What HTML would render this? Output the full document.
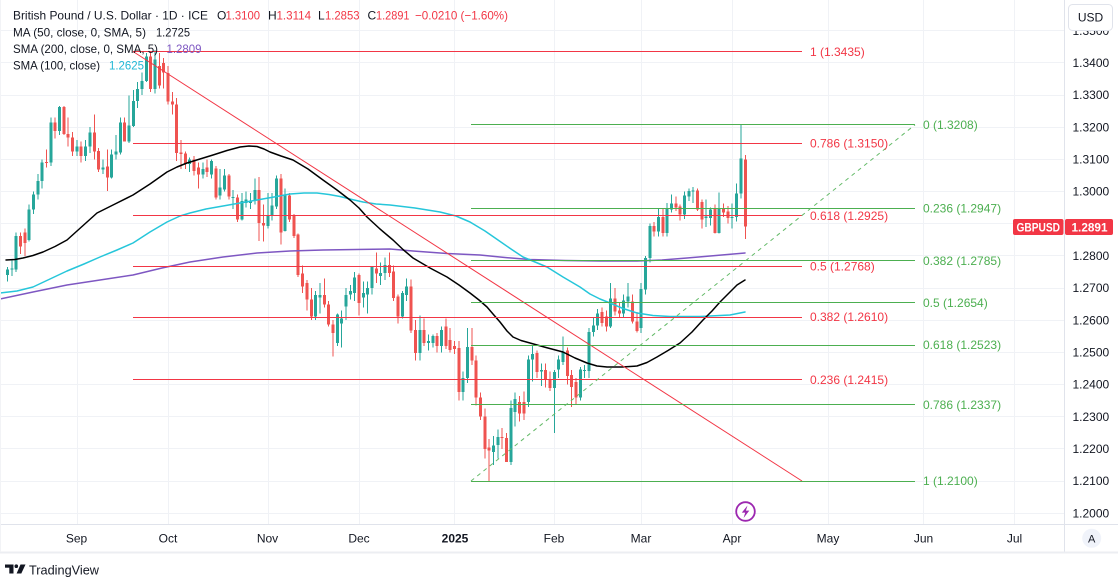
<!DOCTYPE html>
<html><head><meta charset="utf-8"><style>
html,body{margin:0;padding:0;background:#fff;}
body{width:1118px;height:581px;overflow:hidden;}
svg{display:block;}
text{font-family:"Liberation Sans",Arial,sans-serif;}
</style></head><body>
<svg width="1118" height="581" viewBox="0 0 1118 581" xmlns="http://www.w3.org/2000/svg">
<defs><clipPath id="clip"><rect x="0" y="0" width="1064" height="524"/></clipPath></defs>
<rect width="1118" height="581" fill="#fff"/>
<g stroke="#f0f2f6" stroke-width="1">
  <line x1="0" y1="513.5" x2="1064" y2="513.5"/><line x1="0" y1="481.5" x2="1064" y2="481.5"/>
  <line x1="0" y1="448.5" x2="1064" y2="448.5"/><line x1="0" y1="416.5" x2="1064" y2="416.5"/>
  <line x1="0" y1="384.5" x2="1064" y2="384.5"/><line x1="0" y1="352.5" x2="1064" y2="352.5"/>
  <line x1="0" y1="320.5" x2="1064" y2="320.5"/><line x1="0" y1="288.5" x2="1064" y2="288.5"/>
  <line x1="0" y1="255.5" x2="1064" y2="255.5"/><line x1="0" y1="223.5" x2="1064" y2="223.5"/>
  <line x1="0" y1="191.5" x2="1064" y2="191.5"/><line x1="0" y1="159.5" x2="1064" y2="159.5"/>
  <line x1="0" y1="127.5" x2="1064" y2="127.5"/><line x1="0" y1="95.5" x2="1064" y2="95.5"/>
  <line x1="0" y1="62.5" x2="1064" y2="62.5"/><line x1="0" y1="30.5" x2="1064" y2="30.5"/>
  <line x1="77.5" y1="0" x2="77.5" y2="524"/><line x1="168.5" y1="0" x2="168.5" y2="524"/>
  <line x1="268.5" y1="0" x2="268.5" y2="524"/><line x1="359.5" y1="0" x2="359.5" y2="524"/>
  <line x1="454.5" y1="0" x2="454.5" y2="524"/><line x1="554.5" y1="0" x2="554.5" y2="524"/>
  <line x1="641.5" y1="0" x2="641.5" y2="524"/><line x1="732.5" y1="0" x2="732.5" y2="524"/>
  <line x1="828.5" y1="0" x2="828.5" y2="524"/><line x1="923.5" y1="0" x2="923.5" y2="524"/>
  <line x1="1014.5" y1="0" x2="1014.5" y2="524"/>
</g>
<g clip-path="url(#clip)">
  <!-- candles: x = index, y = pips above 1.2000 -->
  <g transform="matrix(4.34 0 0 -0.3217 76.9 513.2)" fill="none" shape-rendering="crispEdges">
    <path stroke="#26a69a" stroke-width="1" vector-effect="non-scaling-stroke" d="M-16 720V765M-15 738V785M-14 750V872M-11 845V960M-10 930V1000M-9 975V1055M-8 1010V1100M-6 1080V1230M-4 1175V1266M0 1110V1160M2 1095V1160M3 1120V1200M6 1055V1100M8 1040V1130M9 1100V1175M10 1115V1230M12 1150V1298M13 1200V1315M14 1260V1340M15 1300V1370M16 1340V1430M18 1305V1440M26 1060V1105M29 1040V1090M31 1040V1100M33 975V1070M34 1000V1070M36 945V1005M38 910V995M39 950V1000M40 945V995M41 960V1040M44 885V995M45 910V995M46 945V1050M48 875V1010M55 600V690M56 620V715M60 520V620M61 515V630M62 600V700M63 665V710M64 660V750M66 640V720M67 620V720M68 680V765M70 710V780M71 725V795M75 605V690M76 660V730M79 475V615M81 505V555M82 515V555M84 500V580M89 350V440M90 405V576M96 150V240M97 170V260M100 150V350M101 270V375M104 330V490M105 410V520M107 395V465M110 249V445M111 420V490M112 460V550M116 350V455M117 420V460M118 420V575M119 550V610M120 570V635M123 575V716M126 610V680M127 640V715M130 560V715M131 680V800M132 780V900M134 860V945M136 860V965M137 935V990M140 915V1000M141 970V1010M142 965V1014M145 890V975M146 895V950M148 870V997M151 885V963M152 907V1025M153 978V1208"/>
    <path stroke="#26a69a" stroke-width="3" vector-effect="non-scaling-stroke" d="M-16 741V757M-15 757V760M-14 757V861M-11 850V944M-10 944V990M-9 990V1032M-8 1032V1090M-6 1090V1215M-4 1188V1262M0 1125V1140M2 1110V1140M3 1140V1183M6 1068V1075M8 1043V1115M9 1115V1125M10 1121V1215M12 1156V1205M13 1203V1281M14 1281V1318M15 1318V1344M16 1344V1420M18 1318V1410M26 1085V1100M29 1053V1070M31 1053V1095M33 988V1012M34 1006V1050M36 980V983M38 913V970M39 965V975M40 965V972M41 970V1005M44 892V924M45 924V956M46 953V1040M48 877V988M55 612V679M56 670V678M60 529V617M61 590V605M62 643V679M63 680V690M64 685V732M66 670V685M67 680V700M68 700V769M70 738V747M71 747V772M75 612V685M76 679V705M79 498V570M81 529V535M82 529V551M84 520V570M89 377V420M90 420V517M96 190V210M97 212V237M100 159V327M101 314V355M104 346V477M105 477V495M107 440V445M110 389V439M111 446V477M112 470V502M116 360V446M117 442V445M118 442V564M119 564V583M120 583V620M123 580V667M126 620V661M127 658V674M130 575V697M131 695V794M132 794V892M134 876V921M136 871V946M137 944V963M140 928V988M141 984V1001M142 1000V1003M145 918V922M146 918V944M148 871V949M151 918V921M152 921V994M153 994V1102"/>
    <path stroke="#ef5350" stroke-width="1" vector-effect="non-scaling-stroke" d="M-13 805V872M-12 800V885M-7 1075V1130M-5 1165V1230M-3 1175V1266M-2 1140V1230M-1 1110V1185M1 1090V1155M4 1100V1240M5 1060V1135M7 1002V1130M11 1155V1230M17 1310V1434M19 1320V1430M20 1320V1415M21 1270V1390M22 1240V1310M23 1095V1290M24 1070V1160M25 1070V1125M27 1050V1110M28 1010V1090M30 1045V1100M32 975V1080M35 975V1055M37 905V990M42 846V1045M43 845V960M47 835V1055M49 905V995M50 855V930M51 735V870M52 685V770M53 630V725M54 600V700M57 640V730M58 580V660M59 487V600M65 615V745M69 715V810M72 735V810M73 660V770M74 590V680M77 560V726M78 475V600M80 520V605M83 500V560M85 510V605M86 500V575M87 495V535M88 350V535M91 460V576M92 335V490M93 290V375M94 170V325M95 100V230M98 200V265M99 160V250M102 285V365M103 290V378M106 420V505M108 390V465M109 380V440M113 400V515M114 330V445M115 340V420M121 580V640M122 565V630M124 615V700M125 610V655M128 590V680M129 562V625M133 860V905M135 860V945M138 940V985M139 910V960M143 940V1010M144 885V975M147 870V960M149 920V962M150 900V955M154 853V1114"/>
    <path stroke="#ef5350" stroke-width="3" vector-effect="non-scaling-stroke" d="M-13 861V829M-12 872V840M-7 1092V1088M-5 1215V1188M-3 1262V1178M-2 1178V1168M-1 1168V1125M1 1140V1110M4 1183V1125M5 1126V1068M7 1078V1043M11 1215V1156M17 1420V1318M19 1390V1330M20 1400V1370M21 1368V1280M22 1280V1270M23 1270V1120M24 1122V1117M25 1118V1085M27 1100V1063M28 1075V1053M30 1075V1060M32 1071V981M35 1050V984M37 981V913M42 1005V902M43 902V895M47 1040V872M49 988V913M50 924V861M51 866V741M52 745V705M53 716V664M54 664V612M57 679V648M58 648V586M59 586V560M65 741V654M69 760V745M72 772V747M73 752V669M74 674V612M77 705V568M78 570V498M80 570V529M83 551V520M85 580V519M86 539V508M87 520V510M88 514V377M91 517V474M92 474V360M93 360V300M94 300V199M95 205V195M98 237V233M99 233V159M102 346V310M103 346V310M106 498V439M108 445V414M109 414V389M113 505V427M114 430V393M115 408V360M121 625V591M122 612V580M124 667V627M125 630V620M128 658V596M129 596V567M133 892V876M135 921V871M138 963V950M139 954V928M143 1003V944M144 967V913M147 946V871M149 949V935M150 938V918M154 1100V891"/>
  </g>
  <!-- moving averages -->
  <g fill="none" stroke-width="1.5" stroke-linejoin="round" stroke-linecap="round">
    <polyline stroke="#7e57c2" points="0,299 33,292 67,285 100,280 133,275 162,268 190,262 223,257 257,253 290,251 323,250 356,249.5 390,249 413,251 447,253.5 480,255 505,257.5 530,259.5 565,260.5 600,261 637,261 662,260 687,258 716,255.5 745,253"/>
    <polyline stroke="#26c6da" points="0,293 17,291 33,287 50,279 67,271 84,264 100,257 117,250 133,243 150,232 167,222 180,216 190,213 206,209 223,206 240,203 257,200 274,197 290,194 304,193 317,193 329,194.5 340,196.5 352,199.5 363,202 376,204 390,205 415,208 440,212 456,216 470,222 485,231 498,240 511,249 523,257 535,262 547,267 563,277 580,287 590,294 600,299 610,303 623,308.5 637,313 653,315.5 670,316.5 700,316.5 730,315 745,312"/>
    <polyline stroke="#000000" points="6,260 15,259.5 23,258 33,255.5 43,252 55,246.5 67,240 82,226.5 97,213 115,204 133,195 150,184 167,172 177,167 187,163 200,159 213,155 227,150.5 240,147 249,146 257,146.5 264,149 270,152 281,156 293,160 308,169 323,180 337,190 350,200 359,208 367,217 380,229 393,240 403,249.5 413,258 430,268 447,277 459,285 470,293 479,300 487,307 493,314 500,322 507,331 513,337 521,340.5 530,343 546,347.5 563,352 575,358 587,363 597,366 607,367 622,367 637,366 647,362.5 657,357 668,350.5 680,343 692,332 703,320 712,311 720,302 729,293 737,285 745,280"/>
  </g>
  <!-- red fib -->
  <g stroke="#f23645" stroke-width="1">
    <line x1="133" y1="51.5" x2="802" y2="51.5"/>
    <line x1="133" y1="143.5" x2="802" y2="143.5"/>
    <line x1="133" y1="215.5" x2="802" y2="215.5"/>
    <line x1="133" y1="266.5" x2="802" y2="266.5"/>
    <line x1="133" y1="317.5" x2="802" y2="317.5"/>
    <line x1="133" y1="379.5" x2="802" y2="379.5"/>
    <line x1="133" y1="51.5" x2="802" y2="481"/>
  </g>
  <!-- green fib -->
  <g stroke="#4caf50" stroke-width="1">
    <line x1="471" y1="124.5" x2="915" y2="124.5"/>
    <line x1="471" y1="208.5" x2="915" y2="208.5"/>
    <line x1="471" y1="260.5" x2="915" y2="260.5"/>
    <line x1="471" y1="302.5" x2="915" y2="302.5"/>
    <line x1="471" y1="345.5" x2="915" y2="345.5"/>
    <line x1="471" y1="404.5" x2="915" y2="404.5"/>
    <line x1="471" y1="481.5" x2="915" y2="481.5"/>
    <line x1="471" y1="481" x2="915" y2="124.8" stroke-dasharray="4 4" stroke="#66bb6a"/>
  </g>
</g>

<!-- fib labels -->
<g font-size="12" fill="#f23645">
  <text x="810" y="55.8">1 (1.3435)</text>
  <text x="810" y="147.4">0.786 (1.3150)</text>
  <text x="810" y="219.8">0.618 (1.2925)</text>
  <text x="810" y="270.3">0.5 (1.2768)</text>
  <text x="810" y="321.2">0.382 (1.2610)</text>
  <text x="810" y="383.9">0.236 (1.2415)</text>
</g>
<g font-size="12" fill="#4caf50">
  <text x="923" y="129.0">0 (1.3208)</text>
  <text x="923" y="212.7">0.236 (1.2947)</text>
  <text x="923" y="264.9">0.382 (1.2785)</text>
  <text x="923" y="307.0">0.5 (1.2654)</text>
  <text x="923" y="349.2">0.618 (1.2523)</text>
  <text x="923" y="409.0">0.786 (1.2337)</text>
  <text x="923" y="485.2">1 (1.2100)</text>
</g>

<!-- legend -->
<g font-size="12" fill="#131722">
  <text x="13" y="19.5" textLength="195" lengthAdjust="spacingAndGlyphs">British Pound / U.S. Dollar · 1D · ICE</text>
  <text x="217" y="19.5">O</text><text x="225.5" y="19.5" fill="#f23645" textLength="34.5" lengthAdjust="spacingAndGlyphs">1.3100</text>
  <text x="268" y="19.5">H</text><text x="276.5" y="19.5" fill="#f23645" textLength="34.5" lengthAdjust="spacingAndGlyphs">1.3114</text>
  <text x="318" y="19.5">L</text><text x="325" y="19.5" fill="#f23645" textLength="34.5" lengthAdjust="spacingAndGlyphs">1.2853</text>
  <text x="367.5" y="19.5">C</text><text x="376" y="19.5" fill="#f23645" textLength="33.5" lengthAdjust="spacingAndGlyphs">1.2891</text>
  <text x="415" y="19.5" fill="#f23645" textLength="93" lengthAdjust="spacingAndGlyphs">−0.0210 (−1.60%)</text>
  <text x="13" y="36.5" textLength="133" lengthAdjust="spacingAndGlyphs">MA (50, close, 0, SMA, 5)</text>
  <text x="156" y="36.5" textLength="34" lengthAdjust="spacingAndGlyphs">1.2725</text>
  <text x="13" y="53.2" textLength="145" lengthAdjust="spacingAndGlyphs">SMA (200, close, 0, SMA, 5)</text>
  <text x="166.5" y="53.2" fill="#7e57c2" textLength="35" lengthAdjust="spacingAndGlyphs">1.2809</text>
  <text x="13" y="69.5" textLength="87" lengthAdjust="spacingAndGlyphs">SMA (100, close)</text>
  <text x="109" y="69.5" fill="#22b8d6" textLength="35" lengthAdjust="spacingAndGlyphs">1.2625</text>
</g>

<!-- lightning icon -->
<circle cx="745.5" cy="511.5" r="9.3" fill="#fff" stroke="#9c27b0" stroke-width="1.8"/>
<polygon points="747.5,505.5 741.8,512.6 745.2,512.6 743.6,518 749.3,510.6 745.9,510.6" fill="#9c27b0"/>

<!-- axes -->
<rect x="1064.5" y="0" width="53.5" height="552" fill="#fff"/>
<rect x="0" y="524.5" width="1118" height="27.5" fill="#fff"/>
<line x1="1064.5" y1="0" x2="1064.5" y2="552" stroke="#e0e3eb"/>
<line x1="0" y1="524.5" x2="1118" y2="524.5" stroke="#e0e3eb"/>
<line x1="0" y1="552.5" x2="1118" y2="552.5" stroke="#eceef2" stroke-width="2"/>
<line x1="0.5" y1="0" x2="0.5" y2="552" stroke="#f2f3f6"/>

<g font-size="12" fill="#131722">
  <text x="1072.5" y="34.9">1.3500</text>
  <text x="1072.5" y="67.0">1.3400</text>
  <text x="1072.5" y="99.2">1.3300</text>
  <text x="1072.5" y="131.4">1.3200</text>
  <text x="1072.5" y="163.5">1.3100</text>
  <text x="1072.5" y="195.7">1.3000</text>
  <text x="1072.5" y="260.0">1.2800</text>
  <text x="1072.5" y="292.2">1.2700</text>
  <text x="1072.5" y="324.4">1.2600</text>
  <text x="1072.5" y="356.5">1.2500</text>
  <text x="1072.5" y="388.7">1.2400</text>
  <text x="1072.5" y="420.9">1.2300</text>
  <text x="1072.5" y="453.1">1.2200</text>
  <text x="1072.5" y="485.2">1.2100</text>
  <text x="1072.5" y="517.4">1.2000</text>
</g>

<!-- USD button -->
<rect x="1068.5" y="4.5" width="44" height="26" rx="4" fill="#fff" stroke="#e0e3eb"/>
<text x="1090.5" y="21.5" font-size="12" fill="#131722" text-anchor="middle">USD</text>

<!-- price tags -->
<rect x="1013" y="219" width="50.5" height="16" rx="2" fill="#f23645"/>
<text x="1016.5" y="231.4" font-size="12" font-weight="bold" fill="#fff" textLength="43.5" lengthAdjust="spacingAndGlyphs">GBPUSD</text>
<rect x="1065" y="219" width="48" height="16" rx="2" fill="#f23645"/>
<text x="1071.5" y="231.4" font-size="12" font-weight="bold" fill="#fff" textLength="36" lengthAdjust="spacingAndGlyphs">1.2891</text>

<!-- time labels -->
<g font-size="12" fill="#131722" text-anchor="middle">
  <text x="76.5" y="542.5">Sep</text>
  <text x="168" y="542.5">Oct</text>
  <text x="267.5" y="542.5">Nov</text>
  <text x="359" y="542.5">Dec</text>
  <text x="455" y="542.5" font-weight="bold">2025</text>
  <text x="554" y="542.5">Feb</text>
  <text x="641" y="542.5">Mar</text>
  <text x="732" y="542.5">Apr</text>
  <text x="828" y="542.5">May</text>
  <text x="923.5" y="542.5">Jun</text>
  <text x="1014.5" y="542.5">Jul</text>
</g>
<circle cx="1091.7" cy="538.3" r="9.5" fill="#f0f3fa"/>
<text x="1091.7" y="542.3" font-size="11" fill="#131722" text-anchor="middle">A</text>

<!-- TradingView logo -->
<g fill="#131722">
  <rect x="5" y="564.5" width="8.5" height="3.2"/>
  <rect x="9.3" y="564.5" width="4.2" height="9"/>
  <circle cx="16.3" cy="566.2" r="1.8"/>
  <polygon points="20.5,564.5 25.5,564.5 21.3,573.5 16.6,573.5"/>
</g>
<text x="29" y="574.5" font-size="13" fill="#131722" textLength="70" lengthAdjust="spacingAndGlyphs">TradingView</text>
</svg>
</body></html>
